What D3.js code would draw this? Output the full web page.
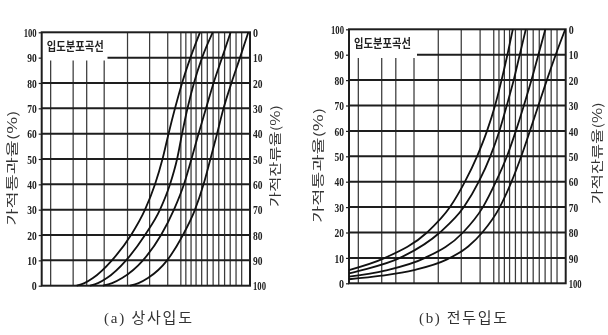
<!DOCTYPE html>
<html><head><meta charset="utf-8">
<script src="https://cdn.jsdelivr.net/npm/d3@7"></script>
<style>
html,body{margin:0;padding:0;background:#fff;}
svg{display:block;will-change:transform;}
</style></head>
<body>
<svg id="c" width="608" height="335"></svg>
<script>
// ---------- data ----------
const yTicks = [0,10,20,30,40,50,60,70,80,90,100];           // passing (%)
const yTicksRight = [100,90,80,70,60,50,40,30,20,10,0];       // retained (%)
// vertical grid lines (relative log-size index 0..100)
const gridX = [4.3,15.1,21.6,30.0,41.2,51.8,60.5,66.8,69.2,71.7,74.1,76.8,79.5,82.3,85.0,87.8,90.5,93.3,96.0];
const boxedGridX = [4.3,15.1,21.6,30.0];   // lines that start below the title box
// (a) 상사입도 curves: [size index, passing %]
const a1 = [[16.8,0],[20.5,1],[24.6,3],[33.7,10],[42.9,20],[49.6,30],[54.4,40],[58.0,50],[60.9,60],[64.0,70],[67.4,80],[71.4,90],[76.0,100]];
const a2 = [[23.2,0],[27.0,1],[31.3,3],[40.5,10],[49.6,20],[56.8,30],[61.6,40],[65.0,50],[67.4,60],[70.0,70],[73.1,80],[77.0,90],[82.1,100]];
const a3 = [[29.4,0],[33.8,1],[38.6,3],[48.6,10],[57.3,20],[63.5,30],[68.3,40],[71.9,50],[75.3,60],[78.9,70],[82.5,80],[86.6,90],[90.7,100]];
const a4 = [[42.4,0],[46.5,1],[51.0,3],[60.2,10],[67.8,20],[73.6,30],[77.7,40],[81.0,50],[84.2,60],[87.3,70],[91.1,80],[95.2,90],[99.2,100]];
// (b) 전두입도 curves
const b1 = [[0,5.2],[16.6,10],[36.0,20],[46.6,30],[53.5,40],[59.1,50],[63.7,60],[67.4,70],[70.4,80],[73.1,90],[75.6,100]];
const b2 = [[0,3.9],[5.1,5],[23.5,10],[41.9,20],[53.0,30],[59.9,40],[65.2,50],[69.4,60],[72.8,70],[76.0,80],[78.8,90],[81.6,100]];
const b3 = [[0,2.6],[16.6,5],[35.1,10],[52.6,20],[61.8,30],[67.8,40],[72.9,50],[77.0,60],[80.7,70],[84.2,80],[87.4,90],[90.6,100]];
const b4 = [[0,1.6],[15,3],[30,5.2],[45,9.3],[55,14.5],[61.5,20],[69.6,30],[75.0,40],[79.5,50],[83.5,60],[87.4,70],[91.3,80],[95.4,90],[99.8,100]];
const boxTitle = "입도분포곡선";
const leftTitle = "가적통과율(%)";
const rightTitle = "가적잔류율(%)";
const captions = ["(a) 상사입도", "(b) 전두입도"];

// ---------- layout ----------
const panels = [
  {x0:41.7, x1:250, y0:32.3, y1:285.7, boxX:107.5, boxY:60.5, curves:[a1,a2,a3,a4], caption:captions[0], capX:148, leftTitleX:14, rightTitleX:277},
  {x0:349, x1:565.7, y0:29.3, y1:283.3, boxX:417, boxY:58, curves:[b1,b2,b3,b4], caption:captions[1], capX:463, leftTitleX:320, rightTitleX:599}
];
const ink = "#1e1e1e";
const svg = d3.select("#c");

panels.forEach(p => {
  const g = svg.append("g");
  const x = d3.scaleLinear().domain([0,100]).range([p.x0,p.x1]);
  const y = d3.scaleLinear().domain([0,100]).range([p.y1,p.y0]);
  const yR = d3.scaleLinear().domain([100,0]).range([p.y1,p.y0]);

  // vertical grid lines
  g.selectAll("line.v").data(gridX).join("line")
    .attr("x1", d=>x(d)).attr("x2", d=>x(d))
    .attr("y1", d=> boxedGridX.includes(d) ? p.boxY : p.y0).attr("y2", p.y1)
    .attr("stroke", "#3a3a3a").attr("stroke-width", 1.25);

  // horizontal grid lines
  g.selectAll("line.h").data(yTicks.filter(d=>d>0 && d<100)).join("line")
    .attr("x1", d=> d===90 ? p.boxX : p.x0).attr("x2", p.x1)
    .attr("y1", d=>y(d)).attr("y2", d=>y(d))
    .attr("stroke", ink).attr("stroke-width", 2);

  // frame
  g.append("rect").attr("x",p.x0).attr("y",p.y0).attr("width",p.x1-p.x0).attr("height",p.y1-p.y0)
    .attr("fill","none").attr("stroke",ink).attr("stroke-width",2);

  // curves
  const line = d3.line().x(d=>x(d[0])).y(d=>y(d[1])).curve(d3.curveMonotoneX);
  g.selectAll("path.c").data(p.curves).join("path")
    .attr("d", line).attr("fill","none").attr("stroke","#111").attr("stroke-width",1.8);

  // left axis
  const la = d3.axisLeft(y).tickValues(yTicks).tickSize(3).tickPadding(2);
  const lg = g.append("g").attr("transform",`translate(${p.x0},0)`).call(la);
  lg.select(".domain").remove();
  lg.selectAll("line").attr("stroke",ink).attr("stroke-width",1.2);
  lg.selectAll("text").attr("font-family","Liberation Serif").attr("font-size",13).attr("font-weight","bold")
    .attr("fill","#222").attr("textLength", d=> d===100?13:(d===0?5:9.5)).attr("lengthAdjust","spacingAndGlyphs");

  // right axis
  const ra = d3.axisRight(yR).tickValues(yTicksRight).tickSize(0).tickPadding(3);
  const rg = g.append("g").attr("transform",`translate(${p.x1},0)`).call(ra);
  rg.select(".domain").remove();
  rg.selectAll("text").attr("font-family","Liberation Serif").attr("font-size",13).attr("font-weight","bold")
    .attr("fill","#222").attr("textLength", d=> d===100?13:(d===0?5:9.5)).attr("lengthAdjust","spacingAndGlyphs");

  // box title
  g.append("text").attr("x", p.x0+5).attr("y", p.y0+19).text(boxTitle)
    .attr("font-family","Noto Sans CJK KR").attr("font-weight","bold").attr("font-size",12)
    .attr("fill","#222").attr("textLength",57).attr("lengthAdjust","spacingAndGlyphs");

  // axis titles
  const cy = (p.y0+p.y1)/2;
  g.append("text").attr("transform",`translate(${p.leftTitleX},${cy+9}) rotate(-90)`)
    .attr("text-anchor","middle").attr("dominant-baseline","middle").text(leftTitle)
    .attr("font-family","Noto Sans CJK KR").attr("font-size",12.5).attr("fill","#333")
    .attr("textLength",115).attr("lengthAdjust","spacingAndGlyphs");
  g.append("text").attr("transform",`translate(${p.rightTitleX},${cy-3}) rotate(-90)`)
    .attr("text-anchor","middle").attr("dominant-baseline","middle").text(rightTitle)
    .attr("font-family","Noto Sans CJK KR").attr("font-size",12.5).attr("fill","#333")
    .attr("textLength",102).attr("lengthAdjust","spacingAndGlyphs");

  // caption
  g.append("text").attr("x",p.capX).attr("y",323).attr("text-anchor","middle").text(p.caption)
    .attr("font-family","Liberation Serif, Noto Sans CJK KR").attr("font-size",15).attr("fill","#333")
    .attr("textLength",88).attr("lengthAdjust","spacing");
});
</script>
</body></html>
